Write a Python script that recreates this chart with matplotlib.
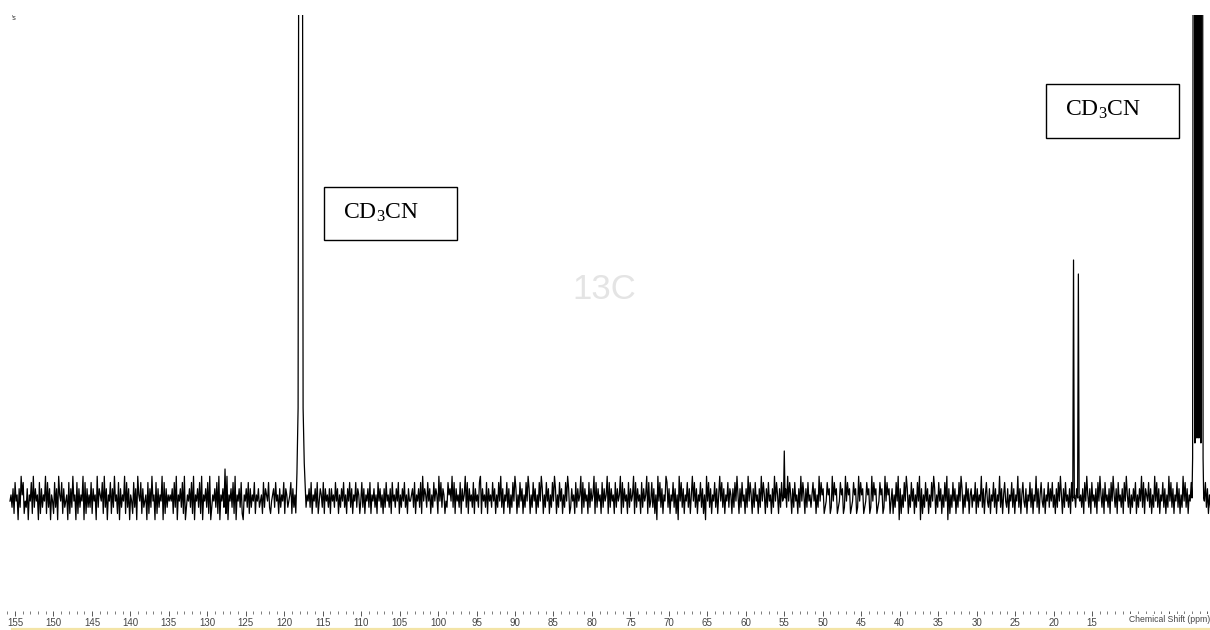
import numpy as np
import matplotlib
matplotlib.use("Agg")
import matplotlib.pyplot as plt
from matplotlib.patches import Rectangle
from matplotlib.ticker import MultipleLocator, FuncFormatter

plt.rcParams["font.family"] = ["Liberation Sans", "DejaVu Sans"]
plt.rcParams["mathtext.fontset"] = "custom"
plt.rcParams["mathtext.rm"] = "Liberation Serif"
plt.rcParams["mathtext.it"] = "Liberation Serif:italic"

# baseline noise, one digit per sample (0..9, 4.5 = baseline)
NOISE = (
    "4536274516385724361547283645172635482736154273618547263451726384517263548172635"
    "3726451836547283615472638452716354827361542736185472634517263845172635481726354"
    "5462738154637281354637281546372815463728135463728154637281546372815463721546372"
    "6354725463452736547324563745263547265345726354726345627354637254637246537264536"
    "2645374625364735264736254736524736254637254635274635263745362745364725364735264"
    "4563725463728465374625374652847365243756483726453726458372645372645378264537264"
    "5374625374836254736253748625374625374862537462537486253746253748625374625374862"
    "3645273645827364527364582736452736458273645273645827364527364582736452736458273"
    "4736251847362548736254736251847362547362584736254736251847362547362584736254736"
    "5263748526374526384752637452638475263745263847526374526384752637452638475263745"
    "3574625384756234756238475623475623847562347562384756234756238475623475623847562"
    "4625374816253748625374625374816253746253748625374625374816253746253748625374625"
    "6354726354836257436254736254836257436254736254836257436254736254836257436254736"
    "4735263748526374536274853627453627485362745362748536274536274853627453627485362"
    "5364725364837265473625384736254736253847362547362538473625473625384736254736253"
)
noise_start, noise_end = 155.65, -0.4
noise_step = 6.2

# peak outlines as (ppm, intensity) vertices
peak_cd3cn_cn = [(118.5, -15), (118.35, 25), (118.2, 90), (118.05, 1000),
                 (117.7, 1000), (117.55, 90), (117.4, 35), (117.25, 5)]
peak_a = [(127.8, 0), (127.7, 29), (127.6, 0)]
peak_b = [(55.1, 0), (55.0, 47), (54.9, 0)]
peak_c1 = [(17.5, 0), (17.4, 238), (17.3, 0)]
peak_c2 = [(16.87, 0), (16.77, 224), (16.67, 0)]
peak_cd3cn_me = [(2.0, 0), (1.92, 40), (1.8, 1000), (1.7, 1000), (1.62, 55),
                 (1.49, 1000), (1.36, 60), (1.23, 1000), (1.1, 60), (0.97, 1000),
                 (0.84, 55), (0.74, 1000), (0.66, 1000), (0.56, 40), (0.48, 0)]
peaks = [peak_cd3cn_cn, peak_a, peak_b, peak_c1, peak_c2, peak_cd3cn_me]

tick_labels = list(range(155, 10, -5))

# build trace
levels = np.array([int(c) for c in NOISE], dtype=float)
ppm = np.linspace(noise_start, noise_end, len(levels))
inten = (levels - 4.5) * noise_step
keep = np.ones(len(ppm), dtype=bool)
for pk in peaks:
    p = [v[0] for v in pk]
    keep &= ~((ppm <= max(p)) & (ppm >= min(p)))
ppm = ppm[keep]
inten = inten[keep]
for pk in peaks:
    ppm = np.concatenate([ppm, [v[0] for v in pk]])
    inten = np.concatenate([inten, [v[1] for v in pk]])
order = np.argsort(-ppm)
ppm, inten = ppm[order], inten[order]

W, H = 1210, 630
fig = plt.figure(figsize=(W / 100, H / 100), dpi=100)


def fx(px):
    return px / W


def fy(py):
    return 1 - py / H


ax = fig.add_axes([0, fy(611), 1, fy(15) - fy(611)])
ax.plot(ppm, inten, color="black", lw=0.9)
ax.set_xlim(156.95, -0.34)
ax.set_ylim(-113, 483)
for s in ax.spines.values():
    s.set_visible(False)
ax.set_yticks([])
ax.xaxis.set_major_locator(MultipleLocator(5))
ax.xaxis.set_minor_locator(MultipleLocator(1))
ax.xaxis.set_major_formatter(FuncFormatter(
    lambda v, pos: f"{int(round(v))}" if int(round(v)) in tick_labels else ""))
ax.tick_params(axis="x", which="major", length=3.8, width=0.7, color="#555555",
               labelsize=7, labelcolor="#444444", pad=1.2)
ax.tick_params(axis="x", which="minor", length=2.4, width=0.6, color="#666666")

# axis caption at right end, over the last tick labels
fig.text(fx(1129), fy(620), "Chemical Shift (ppm)", fontsize=6.2, color="#444444",
         va="center", ha="left",
         bbox=dict(facecolor="white", edgecolor="none", pad=1))

# pale rule at the bottom
fig.add_artist(plt.Line2D([fx(12), 1], [fy(628.5), fy(628.5)],
                          color="#f3e4a6", lw=1.6))

# watermark
fig.text(fx(604), fy(290), "13C", fontsize=25, color="#e4e4e4",
         ha="center", va="center")
fig.text(fx(12), fy(19), "'s", fontsize=5, color="#333333", va="center")

# solvent labels
for (x0, y0, x1, y1) in [(324, 187, 457, 240), (1046, 84, 1179, 138)]:
    fig.add_artist(Rectangle((fx(x0), fy(y1)), fx(x1 - x0), fy(y0) - fy(y1),
                             transform=fig.transFigure, facecolor="white",
                             edgecolor="black", lw=1))
    fig.text(fx(x0 + 19), fy((y0 + y1) / 2 - 1), r"$\mathrm{CD_3CN}$",
             fontsize=17, color="black", ha="left", va="center")

fig.savefig("out.png", dpi=100)
